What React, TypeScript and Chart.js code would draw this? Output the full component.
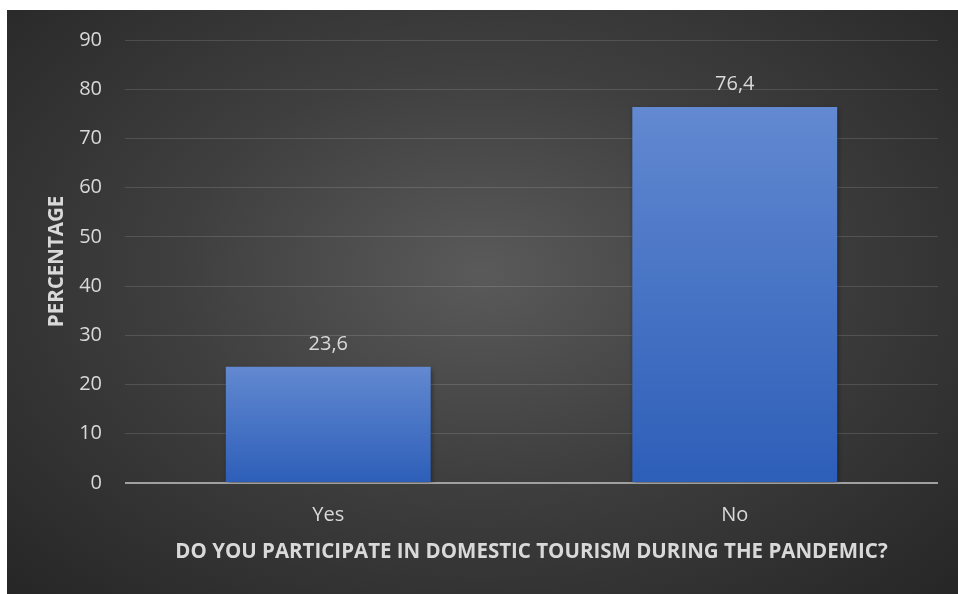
import React, { useEffect, useRef } from "react";
import { Chart, registerables } from "chart.js";

Chart.register(...registerables);

const categories = ["Yes", "No"];
const percentages = [23.6, 76.4];
const valueLabels = ["23,6", "76,4"];
const yTickMax = 90;
const yTickStep = 10;
const xTitle = "DO YOU PARTICIPATE IN DOMESTIC TOURISM DURING THE PANDEMIC?";
const yTitle = "PERCENTAGE";

const FONT = "'Open Sans', 'Noto Sans', sans-serif";
const TEXT = "#d9d9d9";

const valueLabelPlugin = {
  id: "valueLabels",
  afterDatasetsDraw(chart: any) {
    const ctx = chart.ctx;
    const meta = chart.getDatasetMeta(0);
    ctx.save();
    ctx.font = `20px ${FONT}`;
    ctx.fillStyle = TEXT;
    ctx.textAlign = "center";
    ctx.textBaseline = "middle";
    meta.data.forEach((bar: any, i: number) => {
      ctx.fillText(valueLabels[i], bar.x, bar.y - 23);
    });
    ctx.restore();
  },
};

const shadowPlugin = {
  id: "barShadow",
  beforeDatasetsDraw(chart: any) {
    const ctx = chart.ctx;
    ctx.save();
    ctx.shadowColor = "rgba(0,0,0,0.45)";
    ctx.shadowBlur = 5;
    ctx.shadowOffsetX = 1;
    ctx.shadowOffsetY = 2;
  },
  afterDatasetsDraw(chart: any) {
    chart.ctx.restore();
  },
};

export default function App() {
  const ref = useRef<HTMLCanvasElement | null>(null);

  useEffect(() => {
    if (!ref.current) return;
    const chart = new Chart(ref.current, {
      type: "bar",
      data: {
        labels: categories,
        datasets: [
          {
            data: percentages,
            backgroundColor: (c: any) => {
              const ch = c.chart;
              const ys = ch.scales?.y;
              if (!ys || c.raw == null) return "#4472c4";
              const top = ys.getPixelForValue(c.raw);
              const bottom = ys.getPixelForValue(0);
              if (!isFinite(top) || !isFinite(bottom) || top === bottom) return "#4472c4";
              const g = ch.ctx.createLinearGradient(0, top, 0, bottom);
              g.addColorStop(0, "#6289d1");
              g.addColorStop(1, "#2d5eb8");
              return g;
            },
            borderWidth: 0,
            barPercentage: 0.72,
            categoryPercentage: 0.7,
          },
        ],
      },
      options: {
        animation: false,
        responsive: false,
        maintainAspectRatio: false,
        layout: { padding: { top: 30, right: 20, left: 0, bottom: 0 } },
        plugins: {
          legend: { display: false },
          tooltip: { enabled: false },
        },
        scales: {
          x: {
            grid: { display: false, drawTicks: false },
            border: { display: false },
            ticks: { color: TEXT, font: { family: FONT, size: 20 }, padding: 20 },
            title: {
              display: true,
              text: xTitle,
              color: TEXT,
              font: { family: FONT, size: 20.5, weight: "bold" },
              padding: 30,
            },
            afterFit(scale: any) {
              scale.height = 111;
              scale.paddingLeft = 0;
              scale.paddingRight = 0;
            },
          },
          y: {
            min: 0,
            max: yTickMax,
            ticks: {
              stepSize: yTickStep,
              color: TEXT,
              font: { family: FONT, size: 20 },
              padding: 23,
            },
            grid: {
              drawTicks: false,
              color: (c: any) => (c.tick && c.tick.value === 0 ? "#a0a0a0" : "rgba(255,255,255,0.13)"),
              lineWidth: (c: any) => (c.tick && c.tick.value === 0 ? 2 : 1),
            },
            border: { display: false },
            title: {
              display: true,
              text: yTitle,
              color: TEXT,
              font: { family: FONT, size: 20.5, weight: "bold" },
              padding: 38,
            },
            afterFit(scale: any) {
              scale.width = 118;
              scale.paddingTop = 0;
              scale.paddingBottom = 0;
            },
          },
        },
      },
      plugins: [shadowPlugin, valueLabelPlugin],
    });
    return () => chart.destroy();
  }, []);

  return (
    <div
      style={{
        position: "absolute",
        left: 7,
        top: 10,
        width: 951,
        height: 584,
        background: "radial-gradient(ellipse at 50% 45%, #5a5a5a 0%, #3f3f3f 45%, #262626 100%)",
      }}
    >
      <canvas ref={ref} width={951} height={584} style={{ display: "block" }} />
    </div>
  );
}
